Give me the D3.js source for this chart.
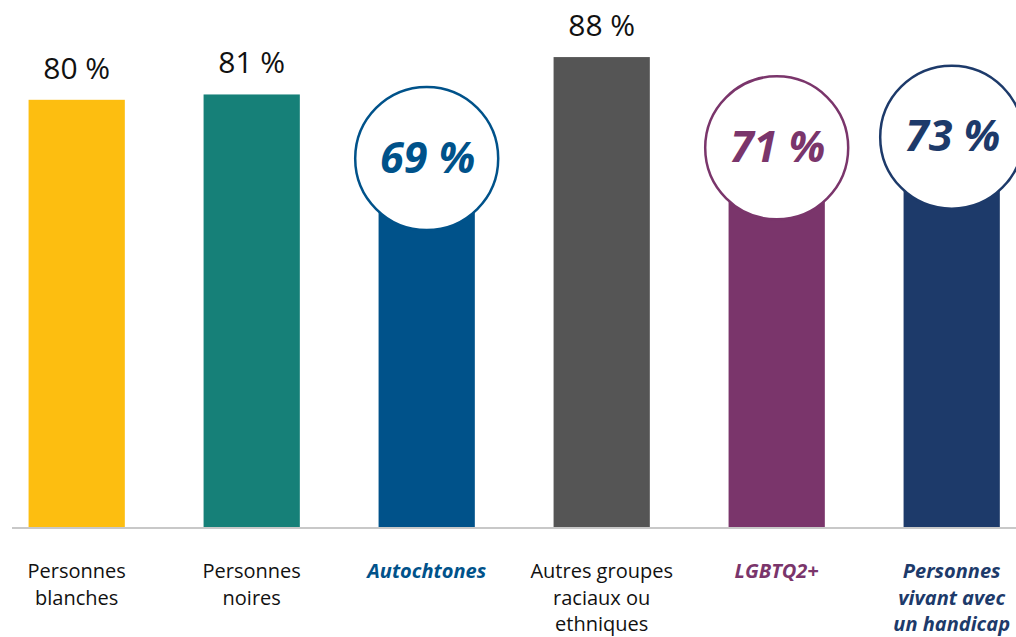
<!DOCTYPE html>
<html>
<head>
<meta charset="utf-8">
<script src="https://cdn.jsdelivr.net/npm/d3@7"></script>
<style>
  body { margin: 0; background: #fff; }
  svg { display: block; font-family: "Open Sans", "Noto Sans", sans-serif; }
</style>
</head>
<body>
<div class="chart"></div>
<script>
var categories = [
  ["Personnes", "blanches"],
  ["Personnes", "noires"],
  ["Autochtones"],
  ["Autres groupes", "raciaux ou", "ethniques"],
  ["LGBTQ2+"],
  ["Personnes", "vivant avec", "un handicap"]
]
var values = [80, 81, 69, 88, 71, 73]
var colors = ['#FDBE10', '#168078', '#00528A', '#555555', '#7A356B', '#1D3A6A']
var highlighted = [false, false, true, false, true, true]

var width = 1016
var height = 637
var baseline = 527

var svg = d3.select(".chart")
    .append("svg")
    .attr("width", width)
    .attr("height", height)

var x = d3.scaleBand()
    .domain(d3.range(values.length))
    .range([-10.8, 1039.2])
    .paddingInner(0.45)
    .paddingOuter(0.225)

var y = d3.scaleLinear()
    .domain([0, 100])
    .range([baseline, baseline - 534])

// bars
svg.selectAll(".bar")
    .data(values)
    .enter()
    .append("rect")
    .attr("class", "bar")
    .attr("x", (d, i) => x(i))
    .attr("width", x.bandwidth())
    .attr("y", d => y(d))
    .attr("height", d => y(0) - y(d))
    .attr("fill", (d, i) => colors[i])

// baseline
svg.append("line")
    .attr("x1", 12)
    .attr("x2", width)
    .attr("y1", baseline + 1)
    .attr("y2", baseline + 1)
    .attr("stroke", "#c8c8c8")
    .attr("stroke-width", 2)

// plain value labels
svg.selectAll(".val")
    .data(values.map((v, i) => ({v: v, i: i})).filter(d => !highlighted[d.i]))
    .enter()
    .append("text")
    .attr("class", "val")
    .attr("x", d => x(d.i) + x.bandwidth() / 2)
    .attr("y", d => y(d.v) - 21)
    .attr("text-anchor", "middle")
    .style("font-size", "30px")
    .attr("fill", "#111")
    .text(d => d.v + " %")

// circled value labels
var hl = values.map((v, i) => ({v: v, i: i})).filter(d => highlighted[d.i])

svg.selectAll(".bubble")
    .data(hl)
    .enter()
    .append("circle")
    .attr("class", "bubble")
    .attr("cx", d => x(d.i) + x.bandwidth() / 2)
    .attr("cy", d => y(d.v))
    .attr("r", 71.5)
    .attr("fill", "#fff")
    .attr("stroke", d => colors[d.i])
    .attr("stroke-width", 2.5)

svg.selectAll(".bubbletext")
    .data(hl)
    .enter()
    .append("text")
    .attr("class", "bubbletext")
    .attr("x", d => x(d.i) + x.bandwidth() / 2 + 1)
    .attr("y", d => y(d.v) + 14)
    .attr("text-anchor", "middle")
    .style("font-size", "43px")
    .style("font-weight", "bold")
    .style("font-style", "italic")
    .attr("fill", d => colors[d.i])
    .text(d => d.v + " %")

// category labels
categories.forEach(function(lines, i) {
    var t = svg.append("text")
        .attr("x", x(i) + x.bandwidth() / 2)
        .attr("y", 578)
        .attr("text-anchor", "middle")
        .style("font-size", "20px")
        .attr("fill", highlighted[i] ? colors[i] : "#111")
        .style("font-weight", highlighted[i] ? "bold" : "normal")
        .style("font-style", highlighted[i] ? "italic" : "normal")
    lines.forEach(function(l, j) {
        t.append("tspan")
            .attr("x", x(i) + x.bandwidth() / 2)
            .attr("dy", j == 0 ? 0 : 26.5)
            .text(l)
    })
})
</script>
</body>
</html>
